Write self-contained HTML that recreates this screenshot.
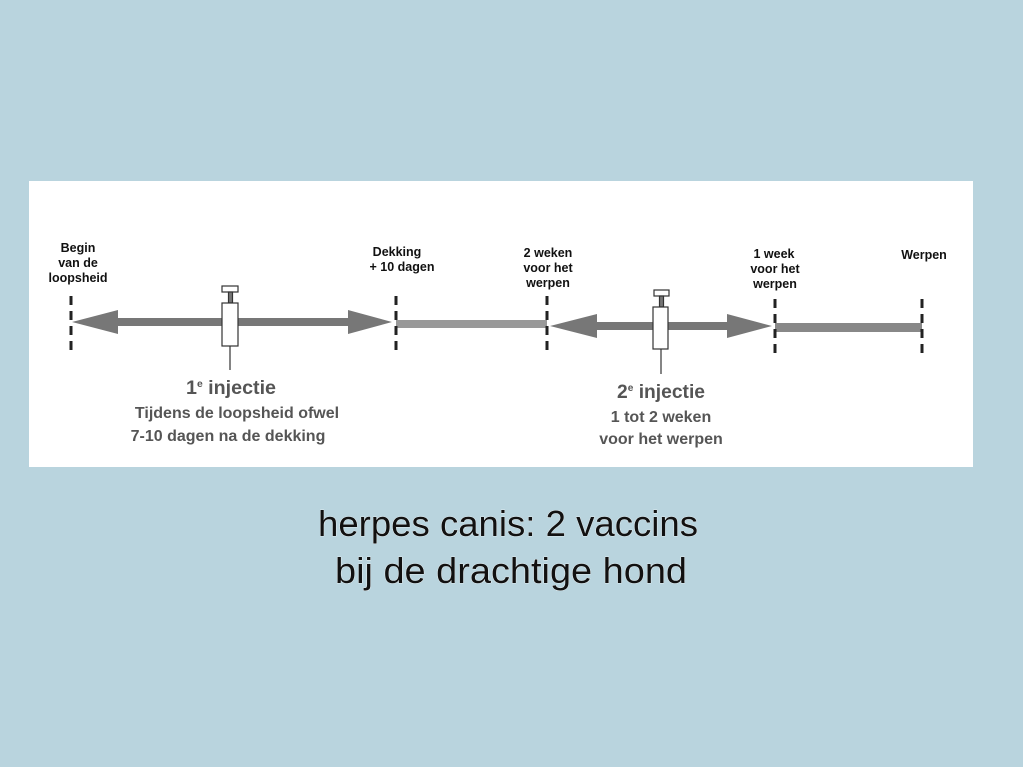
<!DOCTYPE html>
<html><head><meta charset="utf-8"><style>
html,body{margin:0;padding:0;background:#b9d4de;}
svg{display:block}
.l{font-family:"Liberation Sans",sans-serif;font-weight:bold;font-size:12.5px;fill:#111;text-anchor:middle}
.g{font-family:"Liberation Sans",sans-serif;font-weight:bold;font-size:16px;fill:#555;text-anchor:middle}
.h{font-family:"Liberation Sans",sans-serif;font-weight:bold;font-size:19px;fill:#555;text-anchor:middle}
.c{font-family:"Liberation Sans",sans-serif;font-size:36px;fill:#111;stroke:#fff;stroke-width:0.6;paint-order:stroke;text-anchor:middle}
</style></head><body>
<svg width="1023" height="767" viewBox="0 0 1023 767">
<rect width="1023" height="767" fill="#b9d4de"/>
<rect x="29" y="181" width="944" height="286" fill="#fff"/>
<g fill="#777">
<polygon points="72,322 118,310 118,318 348,318 348,310 392,322 348,334 348,326 118,326 118,334"/>
<rect x="396" y="320" width="151" height="8" fill="#999"/>
<polygon points="550,326 597,314 597,322 727,322 727,314 772,326 727,338 727,330 597,330 597,338"/>
<rect x="775" y="323" width="147" height="9" fill="#888"/>
</g>
<g stroke="#222" stroke-width="3" stroke-dasharray="9,6">
<line x1="71" y1="296" x2="71" y2="352"/>
<line x1="396" y1="296" x2="396" y2="354"/>
<line x1="547" y1="296" x2="547" y2="356"/>
<line x1="775" y1="299" x2="775" y2="359"/>
<line x1="922" y1="299" x2="922" y2="359"/>
</g>
<g stroke="#333" stroke-width="1.2" fill="#fff">
<rect x="222" y="286" width="16" height="6"/>
<rect x="228.5" y="292" width="4" height="11" fill="#777"/>
<rect x="222" y="303" width="16" height="43"/>
<line x1="230" y1="346" x2="230" y2="370"/>
<rect x="654" y="290" width="15" height="6"/>
<rect x="659.5" y="296" width="4" height="11" fill="#777"/>
<rect x="653" y="307" width="15" height="42"/>
<line x1="661" y1="349" x2="661" y2="374"/>
</g>
<text class="l" x="78" y="252">Begin</text>
<text class="l" x="78" y="267">van de</text>
<text class="l" x="78" y="282">loopsheid</text>
<text class="l" x="397" y="256">Dekking</text>
<text class="l" x="402" y="271">+ 10 dagen</text>
<text class="l" x="548" y="257">2 weken</text>
<text class="l" x="548" y="272">voor het</text>
<text class="l" x="548" y="287">werpen</text>
<text class="l" x="774" y="258">1 week</text>
<text class="l" x="775" y="273">voor het</text>
<text class="l" x="775" y="288">werpen</text>
<text class="l" x="924" y="259">Werpen</text>
<text class="h" x="231" y="394" textLength="90" lengthAdjust="spacingAndGlyphs">1<tspan font-size="10" dy="-7">e</tspan><tspan dy="7"> injectie</tspan></text>
<text class="g" x="237" y="418">Tijdens de loopsheid ofwel</text>
<text class="g" x="228" y="441">7-10 dagen na de dekking</text>
<text class="h" x="661" y="398" textLength="88" lengthAdjust="spacingAndGlyphs">2<tspan font-size="10" dy="-7">e</tspan><tspan dy="7"> injectie</tspan></text>
<text class="g" x="661" y="422">1 tot 2 weken</text>
<text class="g" x="661" y="444">voor het werpen</text>
<text class="c" x="508" y="536" textLength="380" lengthAdjust="spacingAndGlyphs">herpes canis: 2 vaccins</text>
<text class="c" x="511" y="583" textLength="352" lengthAdjust="spacingAndGlyphs">bij de drachtige hond</text>
</svg>
</body></html>
